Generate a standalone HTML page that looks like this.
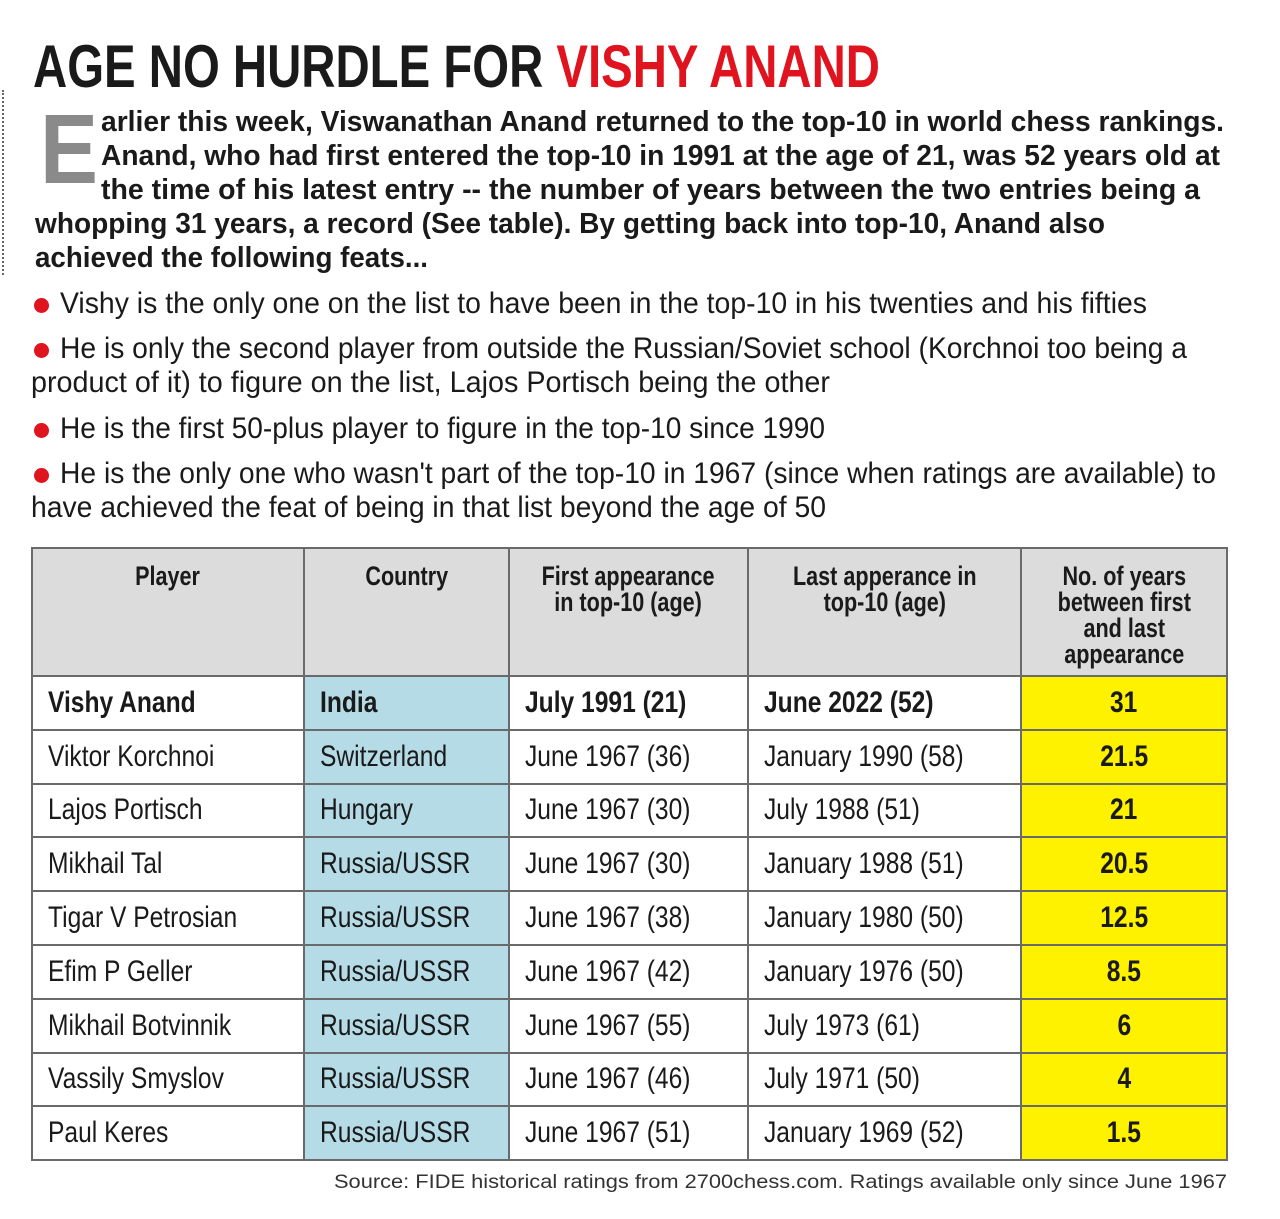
<!DOCTYPE html>
<html><head><meta charset="utf-8"><style>
html,body{margin:0;padding:0;background:#fff;}
body{width:1280px;height:1219px;position:relative;overflow:hidden;font-family:"Liberation Sans",sans-serif;color:#1a1a1a;}
.l{position:absolute;white-space:nowrap;line-height:1;transform-origin:0 0;}
.b{font-weight:bold;}
.dot{position:absolute;width:15px;height:15px;border-radius:50%;background:#e0141e;}
table{position:absolute;left:31px;top:547px;border-collapse:collapse;table-layout:fixed;}
td,th{border:2px solid #6a6a6a;padding:0;font-size:30px;}
th{background:#dcdcdc;height:128px;vertical-align:top;font-size:27px;line-height:26px;padding-top:14px;box-sizing:border-box;}
td{height:51.8px;text-align:left;padding-left:15px;line-height:30px;}
.s{display:inline-block;transform:scaleX(.82);transform-origin:0 50%;white-space:nowrap;}
th .s{transform-origin:50% 50%;transform:scaleX(.8);}
td.c2{background:#b4dbe6;}
td.c5{background:#fff200;text-align:center;padding-left:0;font-weight:bold;}
td.c5 .s{transform-origin:50% 50%;}
tr.bold td{font-weight:bold;}
</style></head><body>
<div style="position:absolute;left:2px;top:90px;height:185px;border-left:2px dotted #666;"></div>

<div class="l b fit" style="left:33px;top:37px;font-size:60px;--w:847" ><span>AGE NO HURDLE FOR </span><span style="color:#e0141e">VISHY ANAND</span></div>

<div class="l b fit" style="left:40px;top:100px;font-size:98px;color:#8a8a8a;--w:58">E</div>

<div class="l b fit" style="left:101px;top:108px;font-size:29px;--w:1123">arlier this week, Viswanathan Anand returned to the top-10 in world chess rankings.</div>
<div class="l b fit" style="left:101px;top:142px;font-size:29px;--w:1119">Anand, who had first entered the top-10 in 1991 at the age of 21, was 52 years old at</div>
<div class="l b fit" style="left:101px;top:176px;font-size:29px;--w:1099">the time of his latest entry -- the number of years between the two entries being a</div>
<div class="l b fit" style="left:35px;top:210px;font-size:29px;--w:1070">whopping 31 years, a record (See table). By getting back into top-10, Anand also</div>
<div class="l b fit" style="left:35px;top:244px;font-size:29px;--w:393">achieved the following feats...</div>

<div class="dot" style="left:34px;top:298px"></div>
<div class="l fit" style="left:60px;top:289px;font-size:30px;--w:1087">Vishy is the only one on the list to have been in the top-10 in his twenties and his fifties</div>
<div class="dot" style="left:34px;top:343px"></div>
<div class="l fit" style="left:60px;top:334px;font-size:30px;--w:1127">He is only the second player from outside the Russian/Soviet school (Korchnoi too being a</div>
<div class="l fit" style="left:31px;top:368px;font-size:30px;--w:799">product of it) to figure on the list, Lajos Portisch being the other</div>
<div class="dot" style="left:34px;top:423px"></div>
<div class="l fit" style="left:60px;top:414px;font-size:30px;--w:765">He is the first 50-plus player to figure in the top-10 since 1990</div>
<div class="dot" style="left:34px;top:468px"></div>
<div class="l fit" style="left:60px;top:459px;font-size:30px;--w:1156">He is the only one who wasn't part of the top-10 in 1967 (since when ratings are available) to</div>
<div class="l fit" style="left:31px;top:493px;font-size:30px;--w:795">have achieved the feat of being in that list beyond the age of 50</div>

<table>
<colgroup><col style="width:272px"><col style="width:205px"><col style="width:239px"><col style="width:273px"><col style="width:206px"></colgroup>
<tr><th><span class="s">Player</span></th><th><span class="s">Country</span></th><th><span class="s">First appearance<br>in top-10 (age)</span></th><th><span class="s">Last apperance in<br>top-10 (age)</span></th><th><span class="s">No. of years<br>between first<br>and last<br>appearance</span></th></tr>
<tr class="bold"><td><span class="s">Vishy Anand</span></td><td class="c2"><span class="s">India</span></td><td><span class="s">July 1991 (21)</span></td><td><span class="s">June 2022 (52)</span></td><td class="c5"><span class="s">31</span></td></tr>
<tr><td><span class="s">Viktor Korchnoi</span></td><td class="c2"><span class="s">Switzerland</span></td><td><span class="s">June 1967 (36)</span></td><td><span class="s">January 1990 (58)</span></td><td class="c5"><span class="s">21.5</span></td></tr>
<tr><td><span class="s">Lajos Portisch</span></td><td class="c2"><span class="s">Hungary</span></td><td><span class="s">June 1967 (30)</span></td><td><span class="s">July 1988 (51)</span></td><td class="c5"><span class="s">21</span></td></tr>
<tr><td><span class="s">Mikhail Tal</span></td><td class="c2"><span class="s">Russia/USSR</span></td><td><span class="s">June 1967 (30)</span></td><td><span class="s">January 1988 (51)</span></td><td class="c5"><span class="s">20.5</span></td></tr>
<tr><td><span class="s">Tigar V Petrosian</span></td><td class="c2"><span class="s">Russia/USSR</span></td><td><span class="s">June 1967 (38)</span></td><td><span class="s">January 1980 (50)</span></td><td class="c5"><span class="s">12.5</span></td></tr>
<tr><td><span class="s">Efim P Geller</span></td><td class="c2"><span class="s">Russia/USSR</span></td><td><span class="s">June 1967 (42)</span></td><td><span class="s">January 1976 (50)</span></td><td class="c5"><span class="s">8.5</span></td></tr>
<tr><td><span class="s">Mikhail Botvinnik</span></td><td class="c2"><span class="s">Russia/USSR</span></td><td><span class="s">June 1967 (55)</span></td><td><span class="s">July 1973 (61)</span></td><td class="c5"><span class="s">6</span></td></tr>
<tr><td><span class="s">Vassily Smyslov</span></td><td class="c2"><span class="s">Russia/USSR</span></td><td><span class="s">June 1967 (46)</span></td><td><span class="s">July 1971 (50)</span></td><td class="c5"><span class="s">4</span></td></tr>
<tr><td><span class="s">Paul Keres</span></td><td class="c2"><span class="s">Russia/USSR</span></td><td><span class="s">June 1967 (51)</span></td><td><span class="s">January 1969 (52)</span></td><td class="c5"><span class="s">1.5</span></td></tr>
</table>

<div class="l fit" style="left:334px;top:1173px;font-size:19px;color:#333;--w:893">Source: FIDE historical ratings from 2700chess.com. Ratings available only since June 1967</div>

<script>
document.querySelectorAll('.fit').forEach(function(e){
  var w=parseFloat(getComputedStyle(e).getPropertyValue('--w'));
  var a=e.getBoundingClientRect().width;
  if(a>0&&w>0){e.style.transform='scaleX('+(w/a)+')';}
});
</script>
</body></html>
